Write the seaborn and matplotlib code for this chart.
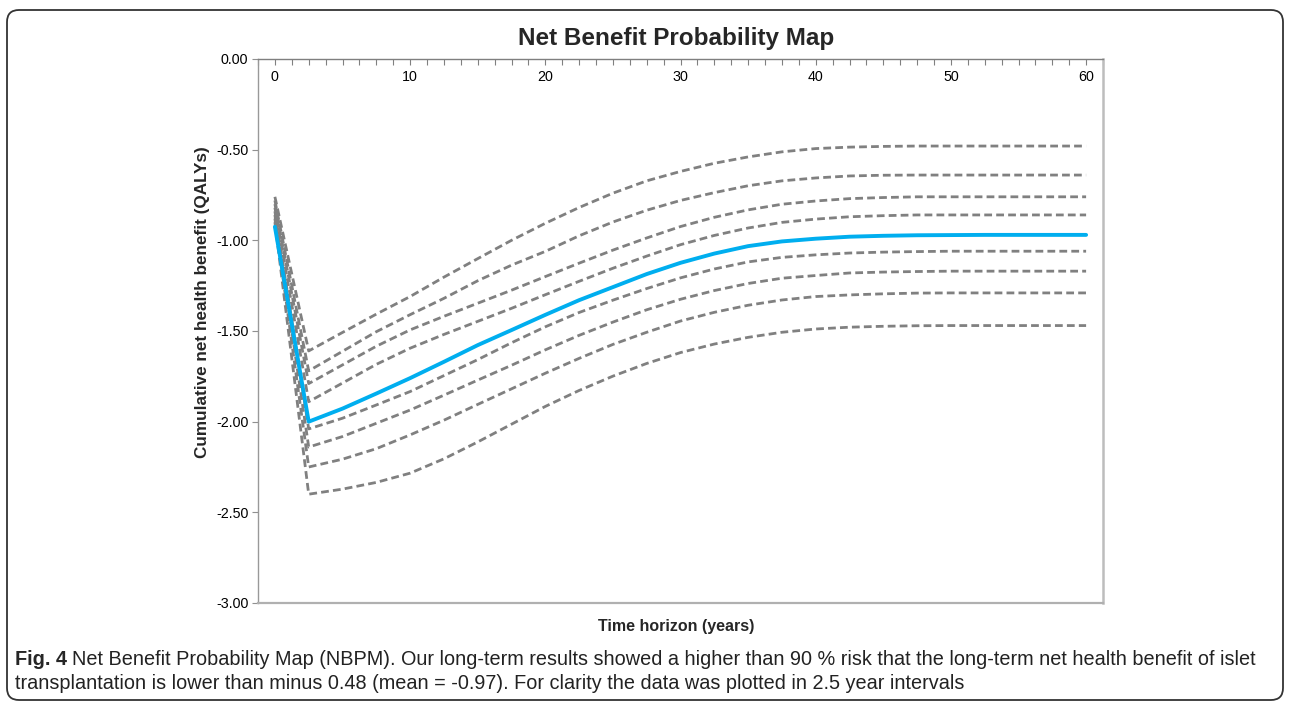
import numpy as np
import pandas as pd
import matplotlib
matplotlib.use("Agg")
import matplotlib.pyplot as plt
from matplotlib.patches import FancyBboxPatch
from matplotlib.ticker import MultipleLocator, FixedLocator
import seaborn as sns

sns.set_theme(style="white")
plt.rcParams['font.family'] = ['Liberation Sans', 'DejaVu Sans']

# ---------------- data ----------------
years = [0, 2.5, 5, 7.5, 10, 12.5, 15, 17.5, 20, 22.5, 25, 27.5, 30,
         32.5, 35, 37.5, 40, 42.5, 45, 47.5, 50, 52.5, 55, 57.5, 60]

p1 = [-0.76, -1.61, -1.508, -1.407, -1.310, -1.203, -1.101, -1.000, -0.906, -0.819, -0.740, -0.672, -0.620,
      -0.575, -0.540, -0.512, -0.494, -0.486, -0.482, -0.48, -0.48, -0.48, -0.48, -0.48, -0.48]
p2 = [-0.78, -1.72, -1.612, -1.504, -1.410, -1.320, -1.223, -1.137, -1.061, -0.975, -0.899, -0.834, -0.780,
      -0.737, -0.699, -0.672, -0.656, -0.645, -0.641, -0.64, -0.64, -0.64, -0.64, -0.64, -0.64]
p3 = [-0.80, -1.79, -1.687, -1.584, -1.494, -1.419, -1.347, -1.275, -1.200, -1.126, -1.054, -0.987, -0.924,
      -0.873, -0.832, -0.801, -0.783, -0.770, -0.764, -0.76, -0.76, -0.76, -0.76, -0.76, -0.76]
p4 = [-0.82, -1.89, -1.787, -1.684, -1.595, -1.519, -1.447, -1.375, -1.300, -1.226, -1.154, -1.087, -1.024,
      -0.973, -0.932, -0.901, -0.883, -0.870, -0.864, -0.86, -0.86, -0.86, -0.86, -0.86, -0.86]
mean_nb = [-0.925, -2.00, -1.928, -1.845, -1.760, -1.670, -1.578, -1.495, -1.411, -1.330, -1.258, -1.186, -1.124,
           -1.073, -1.032, -1.006, -0.991, -0.980, -0.975, -0.972, -0.971, -0.97, -0.97, -0.97, -0.97]
p5 = [-0.84, -2.04, -1.981, -1.908, -1.834, -1.746, -1.658, -1.565, -1.477, -1.398, -1.330, -1.266, -1.207,
      -1.158, -1.119, -1.094, -1.080, -1.070, -1.065, -1.062, -1.06, -1.06, -1.06, -1.06, -1.06]
p6 = [-0.86, -2.14, -2.082, -2.009, -1.936, -1.854, -1.771, -1.689, -1.604, -1.524, -1.451, -1.383, -1.325,
      -1.277, -1.238, -1.209, -1.194, -1.180, -1.175, -1.172, -1.17, -1.17, -1.17, -1.17, -1.17]
p7 = [-0.88, -2.25, -2.207, -2.149, -2.073, -1.992, -1.905, -1.819, -1.733, -1.651, -1.574, -1.507, -1.445,
      -1.397, -1.358, -1.329, -1.310, -1.301, -1.295, -1.291, -1.29, -1.29, -1.29, -1.29, -1.29]
p8 = [-0.90, -2.40, -2.372, -2.335, -2.284, -2.205, -2.112, -2.014, -1.916, -1.828, -1.749, -1.679, -1.619,
      -1.572, -1.535, -1.507, -1.489, -1.479, -1.474, -1.471, -1.47, -1.47, -1.47, -1.47, -1.47]

x_labels = [0, 10, 20, 30, 40, 50, 60]
y_ticks = [0.0, -0.5, -1.0, -1.5, -2.0, -2.5, -3.0]

grey_series = [p1, p2, p3, p4, p5, p6, p7, p8]

# ---------------- figure ----------------
fig = plt.figure(figsize=(12.9, 7.02), dpi=100)
ax = fig.add_axes([258 / 1290, 1 - 603 / 702, (1103 - 258) / 1290, (603 - 59) / 702])

for s in grey_series:
    sns.lineplot(x=years, y=s, ax=ax, color="#808080", linewidth=2.0,
                 linestyle=(0, (2.8, 1.5)), sort=False)
sns.lineplot(x=years, y=mean_nb, ax=ax, color="#00AEEF", linewidth=2.8, sort=False)

ax.set_xlim(-1.25, 61.25)
ax.set_ylim(-3.0, 0.0)

# x axis sits on top (value 0), labels inside the plot
ax.xaxis.tick_top()
ax.xaxis.set_major_locator(FixedLocator(x_labels))
ax.xaxis.set_minor_locator(MultipleLocator(1.25))
ax.tick_params(axis='x', which='both', direction='in', length=4, width=0.8,
               color="#808080", labelsize=10.3, pad=-18, top=True, bottom=False)
ax.set_yticks(y_ticks)
ax.set_yticklabels([f"{v:.2f}" for v in y_ticks])
ax.tick_params(axis='y', which='major', direction='out', length=4, width=0.8,
               color="#909090", labelsize=10.3, left=True, pad=3)

for lab in ax.get_xticklabels() + ax.get_yticklabels():
    lab.set_color("black")

ax.spines['top'].set_color("#7f7f7f")
ax.spines['top'].set_linewidth(1.0)
ax.spines['left'].set_color("#999999")
ax.spines['left'].set_linewidth(1.0)
ax.spines['bottom'].set_color("#b0b0b0")
ax.spines['bottom'].set_linewidth(1.6)
ax.spines['right'].set_color("#bdbdbd")
ax.spines['right'].set_linewidth(1.8)
ax.grid(False)
ax.set_xlabel("")
ax.set_ylabel("")

# titles
fig.text(676 / 1290, 1 - 38 / 702, "Net Benefit Probability Map", ha='center', va='center',
         fontsize=17.5, fontweight='bold')
fig.text(203 / 1290, 1 - 302 / 702, "Cumulative net health benefit (QALYs)", ha='center', va='center',
         rotation=90, fontsize=12.3, fontweight='bold')
fig.text(676 / 1290, 1 - 626 / 702, "Time horizon (years)", ha='center', va='center',
         fontsize=11.5, fontweight='bold')

# caption
cap_font = ['Liberation Sans', 'DejaVu Sans']
t_fig = fig.text(15 / 1290, 1 - 665 / 702, "Fig. 4", ha='left', va='baseline',
                 fontsize=14.3, fontweight='bold', family=cap_font)
fig.canvas.draw()
bb = t_fig.get_window_extent()
fig.text((bb.x1 + 5) / 1290, 1 - 665 / 702,
         "Net Benefit Probability Map (NBPM). Our long-term results showed a higher than 90 % risk that the "
         "long-term net health benefit of islet",
         ha='left', va='baseline', fontsize=14.3, family=cap_font, color="#222222")
fig.text(15 / 1290, 1 - 689 / 702,
         "transplantation is lower than minus 0.48 (mean = -0.97). For clarity the data was plotted in 2.5 year intervals",
         ha='left', va='baseline', fontsize=14.3, family=cap_font, color="#222222")

# rounded frame
frame = FancyBboxPatch((7, 2), 1276, 690, boxstyle="round,pad=0,rounding_size=12",
                       transform=None, fill=False, edgecolor="#333333", linewidth=1.3)
fig.patches.append(frame)

fig.savefig("out.png", dpi=100)
